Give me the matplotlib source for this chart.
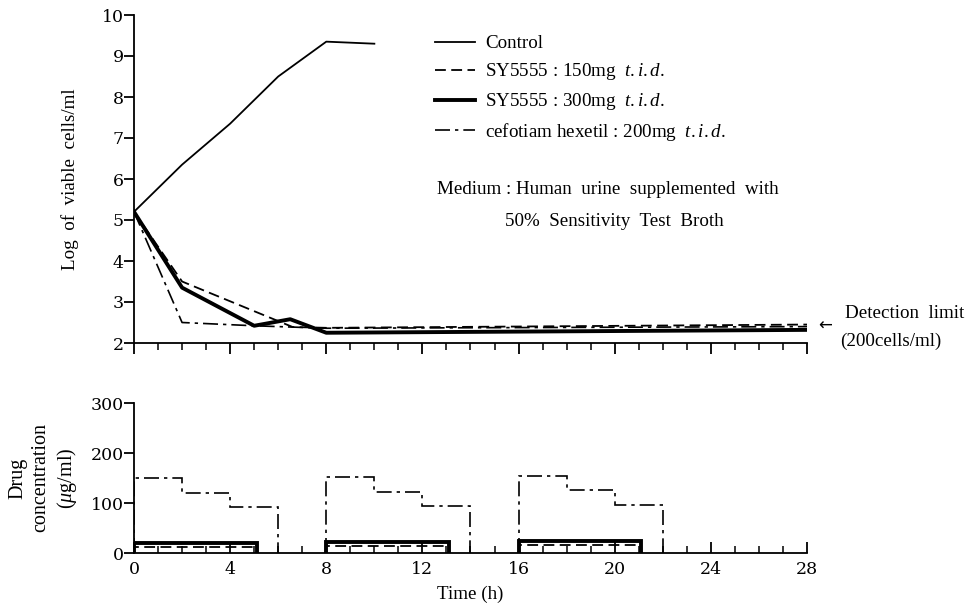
import matplotlib
matplotlib.use("Agg")
import matplotlib.pyplot as plt
from matplotlib.ticker import MultipleLocator

plt.rcParams['font.family'] = ['Liberation Serif', 'DejaVu Serif']
plt.rcParams['mathtext.fontset'] = 'custom'
plt.rcParams['mathtext.rm'] = 'Liberation Serif'
plt.rcParams['mathtext.it'] = 'Liberation Serif:italic'

# --- viable cell counts (log10 cells/ml) ---
ctrl_h = [0, 2, 4, 6, 8, 10]
ctrl_log = [5.2, 6.35, 7.35, 8.5, 9.35, 9.3]

sy150_h = [0, 2, 6.6, 8, 28]
sy150_log = [5.2, 3.5, 2.39, 2.37, 2.45]

sy300_h = [0, 2, 5, 6.5, 8, 28]
sy300_log = [5.2, 3.35, 2.42, 2.58, 2.25, 2.32]

cef_h = [0, 2, 5, 8, 28]
cef_log = [5.2, 2.5, 2.42, 2.36, 2.4]

# --- simulated urinary drug concentrations (ug/ml) ---
dose_starts = [0, 8, 16]
cef_levels = [[150, 120, 92], [152, 122, 94], [155, 127, 97]]
cef_step_h = 2
sy300_levels = [21, 23, 25]
sy150_levels = [13, 14, 16]
sy_duration_h = 5.1

labels = ["Control",
          r"SY5555 : 150mg  $\mathit{t.i.d.}$",
          r"SY5555 : 300mg  $\mathit{t.i.d.}$",
          r"cefotiam hexetil : 200mg  $\mathit{t.i.d.}$"]

TXT = 13.7
TICK_FONT = {'family': 'DejaVu Serif', 'size': 12.5}

fig = plt.figure(figsize=(9.7, 6.07), dpi=100)
W, H = 970, 607

def box(x0, y0, x1, y1):
    return [x0 / W, 1 - y1 / H, (x1 - x0) / W, (y1 - y0) / H]

dash = (0, (6, 3))
dashdot = (0, (9, 3, 2, 3))

# ---------------- upper panel ----------------
ax = fig.add_axes(box(134, 15, 807, 343))
l1, = ax.plot(ctrl_h, ctrl_log, color='black', lw=1.3)
l2, = ax.plot(sy150_h, sy150_log, color='black', lw=1.3, linestyle=dash)
l3, = ax.plot(sy300_h, sy300_log, color='black', lw=2.8)
l4, = ax.plot(cef_h, cef_log, color='black', lw=1.2, linestyle=dashdot)
ax.set_xlim(0, 28)
ax.set_ylim(2, 10)
for s in ('top', 'right'):
    ax.spines[s].set_visible(False)
ax.spines['left'].set_linewidth(1.3)
ax.spines['bottom'].set_linewidth(1.3)
ax.xaxis.set_major_locator(MultipleLocator(4))
ax.xaxis.set_minor_locator(MultipleLocator(1))
ax.tick_params(axis='x', which='major', direction='out', length=8, width=1.3, labelbottom=False)
ax.tick_params(axis='x', which='minor', direction='out', length=5, width=1.1)
ax.yaxis.set_major_locator(MultipleLocator(1))
ax.tick_params(axis='y', direction='out', length=7.5, width=1.3, pad=0)
for t in ax.get_yticklabels():
    t.set_fontproperties(TICK_FONT)
ax.set_ylabel("Log  of  viable  cells/ml", fontsize=TXT, labelpad=16)

leg = ax.legend([l1, l2, l3, l4], labels, frameon=False, fontsize=TXT,
                loc='upper left', bbox_to_anchor=(435 / W, 1 - 35 / H),
                bbox_transform=fig.transFigure, handlelength=2.1,
                handletextpad=0.55, labelspacing=0.47, borderaxespad=0, borderpad=0)

fig.text(437 / W, 1 - 189 / H, "Medium : Human  urine  supplemented  with",
         fontsize=TXT, va='center', ha='left')
fig.text(505 / W, 1 - 221 / H, "50%  Sensitivity  Test  Broth",
         fontsize=TXT, va='center', ha='left')

fig.text(818 / W, 1 - 326 / H, "\u2190", fontsize=12, va='center', ha='left',
         family=['DejaVu Sans'])
fig.text(845 / W, 1 - 313 / H, "Detection  limit", fontsize=TXT, va='center', ha='left')
fig.text(840 / W, 1 - 341 / H, "(200cells/ml)", fontsize=TXT, va='center', ha='left')

# ---------------- lower panel ----------------
bx = fig.add_axes(box(134, 403, 807, 553))
for start, lv_c, lv_3, lv_1 in zip(dose_starts, cef_levels, sy300_levels, sy150_levels):
    edges = [start + i * cef_step_h for i in range(len(lv_c) + 1)]
    bx.stairs(lv_c, edges, baseline=0, fill=False, color='black', lw=1.2,
              linestyle=dashdot)
    bx.stairs([lv_1], [start, start + sy_duration_h], baseline=0, fill=False,
              color='black', lw=1.3, linestyle=dash)
    bx.stairs([lv_3], [start, start + sy_duration_h], baseline=0, fill=False,
              color='black', lw=2.8)
bx.set_xlim(0, 28)
bx.set_ylim(0, 300)
for s in ('top', 'right'):
    bx.spines[s].set_visible(False)
bx.spines['left'].set_linewidth(1.3)
bx.spines['bottom'].set_linewidth(1.3)
bx.xaxis.set_major_locator(MultipleLocator(4))
bx.xaxis.set_minor_locator(MultipleLocator(1))
bx.tick_params(axis='x', which='major', direction='in', length=8, width=1.3, pad=6)
bx.tick_params(axis='x', which='minor', direction='in', length=5, width=1.1)
bx.yaxis.set_major_locator(MultipleLocator(100))
bx.tick_params(axis='y', direction='out', length=7.5, width=1.3, pad=0)
for t in bx.get_xticklabels() + bx.get_yticklabels():
    t.set_fontproperties(TICK_FONT)
bx.set_xlabel("Time (h)", fontsize=TXT, labelpad=5)
bx.set_ylabel("Drug\nconcentration\n($\\mu$g/ml)", fontsize=14.5, labelpad=8,
              linespacing=1.3)

fig.savefig("out.png", dpi=100)
